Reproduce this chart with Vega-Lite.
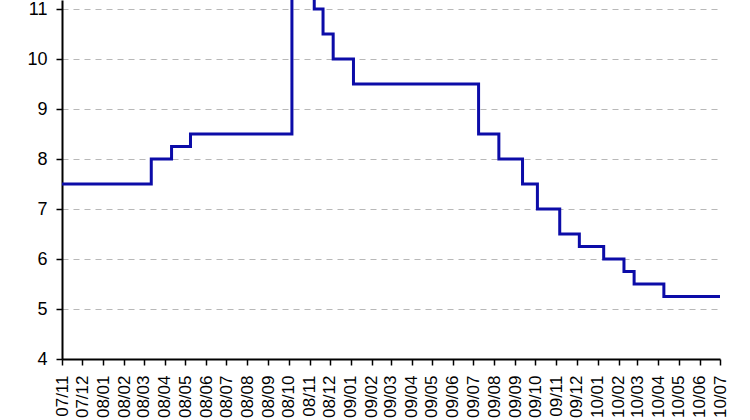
{
  "$schema": "https://vega.github.io/schema/vega-lite/v6.json",
  "description": "Policy rate step chart, Nov 2007 - Jul 2010.",
  "width": 658,
  "height": 359,
  "autosize": "none",
  "padding": {"left": 62, "top": 0, "right": 30, "bottom": 61},
  "background": "white",
  "data": {
    "values": [
      {"date": "2007-11-01T00:00:00", "rate": 7.5},
      {"date": "2008-03-12T00:00:00", "rate": 8.0},
      {"date": "2008-04-11T00:00:00", "rate": 8.25},
      {"date": "2008-05-09T00:00:00", "rate": 8.5},
      {"date": "2008-10-06T00:00:00", "rate": 11.5},
      {"date": "2008-11-08T00:00:00", "rate": 11.0},
      {"date": "2008-11-21T00:00:00", "rate": 10.5},
      {"date": "2008-12-06T00:00:00", "rate": 10.0},
      {"date": "2009-01-05T00:00:00", "rate": 9.5},
      {"date": "2009-07-09T00:00:00", "rate": 8.5},
      {"date": "2009-08-08T00:00:00", "rate": 8.0},
      {"date": "2009-09-12T00:00:00", "rate": 7.5},
      {"date": "2009-10-04T00:00:00", "rate": 7.0},
      {"date": "2009-11-06T00:00:00", "rate": 6.5},
      {"date": "2009-12-05T00:00:00", "rate": 6.25},
      {"date": "2010-01-10T00:00:00", "rate": 6.0},
      {"date": "2010-02-09T00:00:00", "rate": 5.75},
      {"date": "2010-02-24T00:00:00", "rate": 5.5},
      {"date": "2010-04-09T00:00:00", "rate": 5.25},
      {"date": "2010-07-01T00:00:00", "rate": 5.25}
    ]
  },
  "mark": {
    "type": "line",
    "interpolate": "step-after",
    "color": "#0c0ca8",
    "strokeWidth": 3,
    "clip": true
  },
  "encoding": {
    "x": {
      "field": "date",
      "type": "temporal",
      "scale": {
        "domain": [
          {"year": 2007, "month": 11, "date": 1},
          {"year": 2010, "month": 7, "date": 1}
        ]
      },
      "axis": {
        "title": null,
        "format": "%y/%m",
        "tickCount": {"interval": "month", "step": 1},
        "labelAngle": -90,
        "labelFont": "Liberation Sans",
        "labelFontSize": 17,
        "labelColor": "black",
        "labelPadding": 10,
        "labelOverlap": false,
        "labelFlush": false,
        "labelBound": false,
        "tickSize": 6,
        "tickColor": "black",
        "tickWidth": 1.5,
        "domainColor": "black",
        "domainWidth": 2,
        "grid": false
      }
    },
    "y": {
      "field": "rate",
      "type": "quantitative",
      "scale": {"domain": [4, 11.18], "nice": false, "zero": false},
      "axis": {
        "title": null,
        "values": [4, 5, 6, 7, 8, 9, 10, 11],
        "labelFont": "Liberation Sans",
        "labelFontSize": 18,
        "labelColor": "black",
        "labelPadding": 9,
        "tickSize": 6,
        "tickColor": "black",
        "tickWidth": 1.5,
        "domainColor": "black",
        "domainWidth": 2,
        "grid": true,
        "gridColor": "#b8b8b8",
        "gridDash": [6, 5],
        "gridWidth": 1.2
      }
    }
  },
  "config": {
    "view": {"stroke": null}
  }
}
